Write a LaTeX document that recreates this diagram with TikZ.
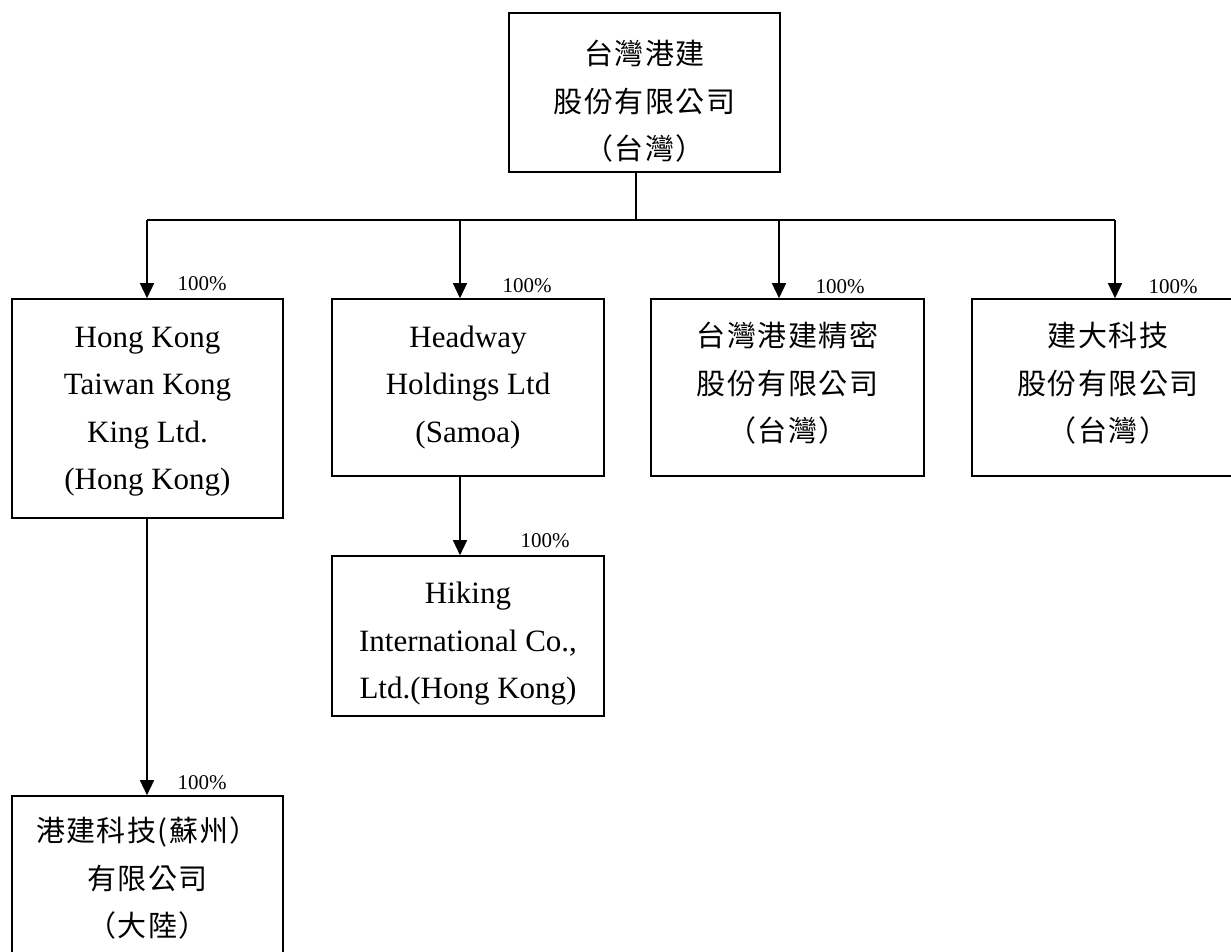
\documentclass[tikz,border=0pt]{standalone}
\usepackage{fontspec}
\setmainfont{Liberation Serif}
\newfontfamily\cjk[LetterSpace=5]{Noto Sans CJK TC}
\usetikzlibrary{arrows.meta}
\begin{document}
\begin{tikzpicture}[x=1pt,y=-1pt,
  box/.style={draw, line width=1.6pt, inner sep=0pt, minimum width=271pt},
  txt/.style={inner sep=0pt, align=center},
  en/.style={txt, font=\fontsize{31}{47.5}\selectfont},
  zh/.style={txt, font=\cjk\fontsize{29}{47.5}\selectfont},
  pct/.style={font=\fontsize{21}{24}\selectfont, anchor=base, inner sep=0pt},
  conn/.style={line width=1.4pt},
  arr/.style={conn, -{Triangle[width=14pt,length=15pt]}}]
\clip (0,0) rectangle (1231,952);

% boxes
\node[box, minimum height=159pt] (top) at (644.5,92.5) {};
\node[box, minimum height=219pt] (b1) at (147.5,408.5) {};
\node[box, minimum height=177pt, minimum width=272pt] (b2) at (468,387.5) {};
\node[box, minimum height=177pt, minimum width=273pt] (b3) at (787.5,387.5) {};
\node[box, minimum height=177pt, minimum width=272pt] (b4) at (1108,387.5) {};
\node[box, minimum height=160pt, minimum width=272pt] (hk) at (468,636) {};
\node[box, minimum height=164pt] (b6) at (147.5,878) {};

% texts
\node[zh, yshift=-9pt] (topt) at (top) {台灣港建\\股份有限公司\\（台灣）};
\node[en, yshift=-3pt] (b1t) at (b1) {Hong Kong\\Taiwan Kong\\King Ltd.\\(Hong Kong)};
\node[en] (b2t) at (b2) {Headway\\Holdings Ltd\\(Samoa)};
\node[zh, yshift=4pt] (b3t) at (b3) {台灣港建精密\\股份有限公司\\（台灣）};
\node[zh, yshift=4pt] (b4t) at (b4) {建大科技\\股份有限公司\\（台灣）};
\node[en, yshift=-8pt] (hkt) at (hk) {Hiking\\International Co.,\\Ltd.(Hong Kong)};
\node[zh] (b6t) at (b6) {港建科技(蘇州）\\有限公司\\（大陸）};

% bus
\coordinate (s) at (636,220);
\coordinate (a1) at (147,220);
\coordinate (a2) at (460,220);
\coordinate (a3) at (779,220);
\coordinate (a4) at (1115,220);
\draw[conn] (top.south -| s) -- (s);
\draw[conn] (a1) -- (a4);
\draw[arr] (a1) -- (a1 |- b1.north);
\draw[arr] (a2) -- (a2 |- b2.north);
\draw[arr] (a3) -- (a3 |- b3.north);
\draw[arr] (a4) -- (a4 |- b4.north);
\draw[arr] (b2.south -| a2) -- (a2 |- hk.north);
\draw[arr] (b1.south -| a1) -- (a1 |- b6.north);

% percentages
\node[pct] (p1) at (202,290) {100\%};
\node[pct] (p2) at (527,292) {100\%};
\node[pct] (p3) at (840,293) {100\%};
\node[pct] (p4) at (1173,293) {100\%};
\node[pct] (p5) at (545,547) {100\%};
\node[pct] (p6) at (202,789) {100\%};
\end{tikzpicture}
\end{document}
